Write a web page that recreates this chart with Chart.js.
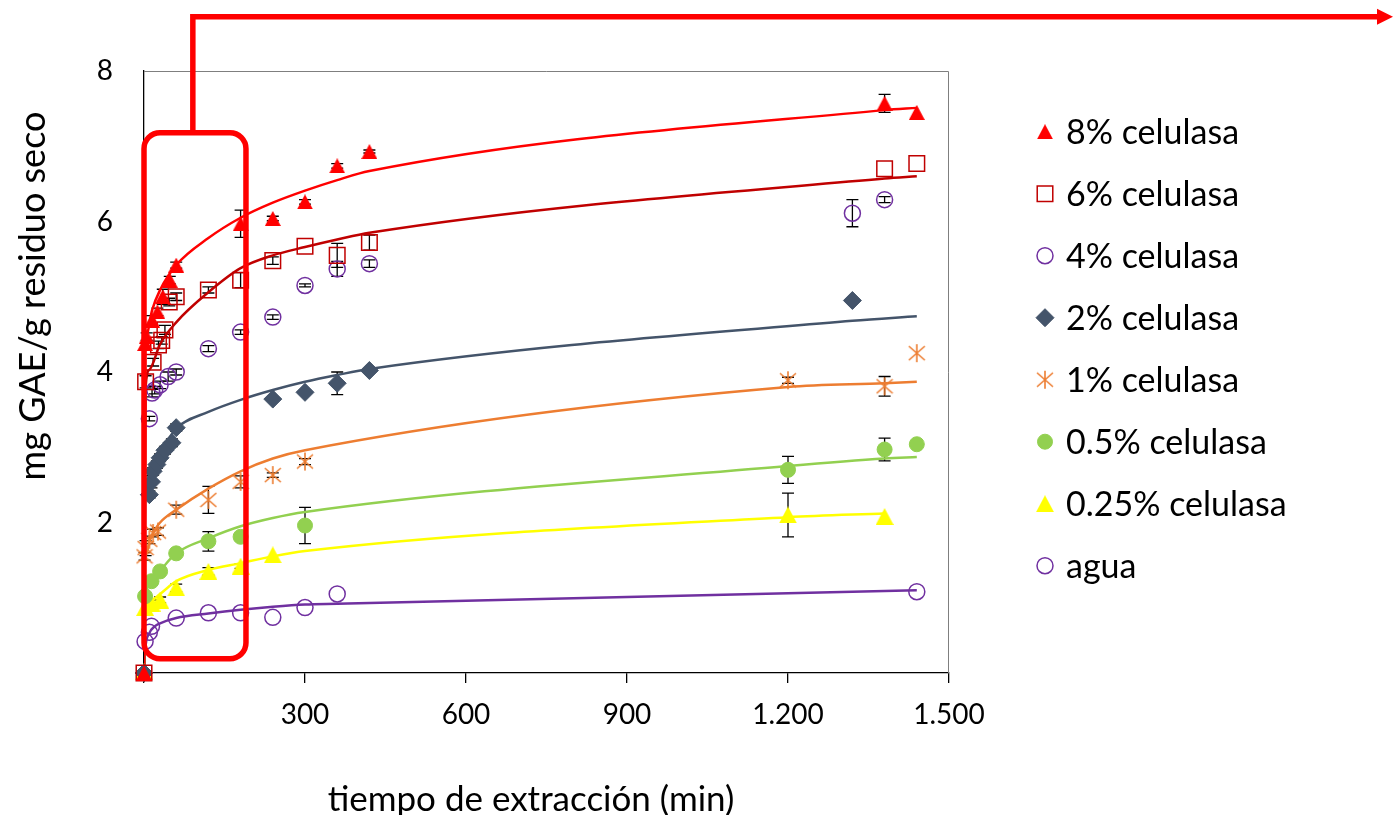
<!DOCTYPE html>
<html>
<head>
<meta charset="utf-8">
<title>Extracción con celulasa</title>
<script src="https://cdn.jsdelivr.net/npm/chart.js@4.4.1/dist/chart.umd.min.js"></script>
<style>
  html, body { margin: 0; padding: 0; background: #fff; }
  canvas { display: block; }
</style>
</head>
<body>
<canvas id="graficoCelulasa" width="1393" height="815"></canvas>
<script>
// Medidas: tiempo (min), mg GAE/g residuo seco y desviación
const tiempo8 = [0, 2, 5, 15, 25, 35, 48, 60, 180, 240, 300, 360, 420, 1380, 1440];
const gae8 = [0, 4.38, 4.47, 4.69, 4.8, 5.0, 5.22, 5.42, 5.97, 6.04, 6.26, 6.74, 6.93, 7.57, 7.45];
const de8 = [0, 0, 0.05, 0.06, 0.05, 0.1, 0.05, 0.04, 0.18, 0.03, 0.03, 0.03, 0.02, 0.12, 0];

const tiempo6 = [0, 3, 17, 27, 33, 39, 47, 60, 120, 180, 240, 300, 360, 420, 1380, 1440];
const gae6 = [0, 3.87, 4.13, 4.36, 4.42, 4.56, 4.93, 5.0, 5.09, 5.22, 5.48, 5.67, 5.55, 5.72, 6.7, 6.77];
const de6 = [0, 0.08, 0.05, 0.05, 0.05, 0.06, 0.05, 0.05, 0.04, 0.1, 0.05, 0, 0.16, 0.1, 0, 0];

const tiempo4 = [10, 15, 20, 30, 45, 60, 120, 180, 240, 300, 360, 420, 1320, 1380];
const gae4 = [3.38, 3.72, 3.76, 3.83, 3.94, 4.0, 4.31, 4.53, 4.73, 5.15, 5.37, 5.44, 6.11, 6.29];
const de4 = [0.03, 0.05, 0.05, 0.05, 0.06, 0.04, 0.04, 0.03, 0.03, 0.02, 0.1, 0.05, 0.18, 0.04];

const tiempo2 = [0, 10, 14, 17, 24, 30, 39, 52, 60, 240, 300, 360, 420, 1320];
const gae2 = [0, 2.37, 2.54, 2.68, 2.77, 2.86, 2.96, 3.06, 3.26, 3.64, 3.73, 3.85, 4.02, 4.95];
const de2 = [0, 0.05, 0.08, 0.05, 0.05, 0.05, 0.05, 0.05, 0.05, 0, 0, 0.15, 0, 0];

const tiempo1 = [1, 3, 10, 17, 26, 60, 120, 180, 240, 300, 1200, 1380, 1440];
const gae1 = [1.55, 1.66, 1.77, 1.86, 1.88, 2.17, 2.3, 2.54, 2.63, 2.81, 3.89, 3.81, 4.25];
const de1 = [0.05, 0.1, 0.05, 0.05, 0.05, 0.06, 0.18, 0.08, 0.03, 0.04, 0.04, 0.13, 0];

const tiempo05 = [2, 14, 30, 60, 120, 180, 300, 1200, 1380, 1440];
const gae05 = [1.02, 1.22, 1.35, 1.59, 1.75, 1.81, 1.96, 2.7, 2.97, 3.04];
const de05 = [0.03, 0.05, 0.04, 0.03, 0.13, 0.03, 0.24, 0.18, 0.15, 0];

const tiempo025 = [0, 2, 14, 30, 60, 120, 180, 240, 1200, 1380];
const gae025 = [0.02, 0.87, 0.93, 0.97, 1.13, 1.35, 1.42, 1.57, 2.1, 2.08];
const de025 = [0, 0, 0.04, 0.04, 0.05, 0.05, 0.03, 0, 0.29, 0];

const tiempoAgua = [2, 10, 14, 60, 120, 180, 240, 300, 360, 1440];
const gaeAgua = [0.42, 0.54, 0.62, 0.73, 0.8, 0.8, 0.74, 0.87, 1.05, 1.08];

// Curvas de ajuste del modelo
const tAjuste8 = [0, 2, 5, 15, 30, 60, 120, 180, 240, 300, 360, 420, 1380, 1440];
const ajuste8 = [0, 4.3, 4.49, 4.82, 5.09, 5.42, 5.78, 6.05, 6.25, 6.41, 6.55, 6.67, 7.48, 7.51];
const tAjuste6 = [0, 3, 10, 30, 60, 120, 180, 240, 300, 360, 420, 1380, 1440];
const ajuste6 = [0, 3.8, 4.03, 4.37, 4.66, 5.06, 5.38, 5.55, 5.66, 5.76, 5.85, 6.57, 6.6];
const tAjuste2 = [0, 2, 10, 17, 24, 30, 45, 60, 120, 180, 240, 300, 360, 420, 1320, 1440];
const ajuste2 = [0, 2.3, 2.55, 2.72, 2.85, 2.93, 3.1, 3.25, 3.47, 3.63, 3.76, 3.87, 3.96, 4.04, 4.68, 4.74];
const tAjuste1 = [0, 2, 5, 10, 20, 30, 60, 120, 180, 240, 300, 1200, 1380, 1440];
const ajuste1 = [0, 1.5, 1.6, 1.75, 1.9, 2.0, 2.17, 2.45, 2.68, 2.85, 2.96, 3.8, 3.85, 3.87];
const tAjuste05 = [0, 2, 10, 20, 30, 60, 120, 180, 240, 300, 1200, 1380, 1440];
const ajuste05 = [0, 1.0, 1.17, 1.28, 1.36, 1.59, 1.79, 1.95, 2.06, 2.14, 2.75, 2.85, 2.87];
const tAjuste025 = [0, 2, 10, 30, 60, 120, 180, 240, 300, 1200, 1380];
const ajuste025 = [0, 0.87, 0.95, 1.05, 1.22, 1.37, 1.46, 1.55, 1.62, 2.07, 2.12];
const tAjusteAgua = [0, 2, 10, 20, 30, 60, 120, 180, 240, 300, 360, 1440];
const ajusteAgua = [0, 0.3, 0.53, 0.62, 0.66, 0.73, 0.79, 0.84, 0.88, 0.91, 0.92, 1.1];

const pares = (xs, ys) => xs.map((x, i) => ({ x: x, y: ys[i] }));

// marcadores dibujados a mano: triángulo tipo Excel y asterisco
function triangulo(color, w, h) {
  const c = document.createElement('canvas');
  c.width = w; c.height = h;
  const g = c.getContext('2d');
  g.fillStyle = color;
  g.beginPath();
  g.moveTo(w / 2, 0);
  g.lineTo(w, h);
  g.lineTo(0, h);
  g.closePath();
  g.fill();
  return c;
}
function asterisco(color, w, h) {
  const c = document.createElement('canvas');
  c.width = w; c.height = h;
  const g = c.getContext('2d');
  g.strokeStyle = color;
  g.lineWidth = 1.6;
  g.beginPath();
  g.moveTo(w / 2, 1); g.lineTo(w / 2, h - 1);
  g.moveTo(1, 3); g.lineTo(w - 1, h - 3);
  g.moveTo(w - 1, 3); g.lineTo(1, h - 3);
  g.stroke();
  return c;
}
const trianguloRojo = triangulo('#FF0000', 16, 15);
const trianguloAmarillo = triangulo('#FFFF00', 18, 17);
const asteriscoNaranja = asterisco('#ED7D31', 18, 20);

function medidas(etiqueta, xs, ys, de, estilo) {
  return Object.assign({
    label: etiqueta,
    data: pares(xs, ys),
    desviacion: de,
    showLine: false,
    clip: false,
    order: 0,
    leyenda: true
  }, estilo);
}
function ajuste(xs, ys, color) {
  return {
    label: 'ajuste',
    data: pares(xs, ys),
    showLine: true,
    borderColor: color,
    borderWidth: 2.5,
    pointRadius: 0,
    cubicInterpolationMode: 'monotone',
    order: 1
  };
}

const datasets = [
  medidas('8% celulasa', tiempo8, gae8, de8, { pointStyle: trianguloRojo, pointRadius: 9, backgroundColor: '#FF0000', borderColor: '#FF0000' }),
  medidas('6% celulasa', tiempo6, gae6, de6, { pointStyle: 'rect', pointRadius: 11, backgroundColor: 'rgba(0,0,0,0)', borderColor: '#C00000', borderWidth: 1.5 }),
  medidas('4% celulasa', tiempo4, gae4, de4, { pointStyle: 'circle', pointRadius: 8, backgroundColor: 'rgba(0,0,0,0)', borderColor: '#7030A0', borderWidth: 1.5 }),
  medidas('2% celulasa', tiempo2, gae2, de2, { pointStyle: 'rectRot', pointRadius: 9, backgroundColor: '#44546A', borderColor: '#44546A', borderWidth: 1 }),
  medidas('1% celulasa', tiempo1, gae1, de1, { pointStyle: asteriscoNaranja, pointRadius: 9, backgroundColor: '#ED7D31', borderColor: '#ED7D31' }),
  medidas('0.5% celulasa', tiempo05, gae05, de05, { pointStyle: 'circle', pointRadius: 7.5, backgroundColor: '#92D050', borderColor: '#92D050', borderWidth: 1 }),
  medidas('0.25% celulasa', tiempo025, gae025, de025, { pointStyle: trianguloAmarillo, pointRadius: 9, backgroundColor: '#FFFF00', borderColor: '#FFFF00' }),
  medidas('agua', tiempoAgua, gaeAgua, null, { pointStyle: 'circle', pointRadius: 8, backgroundColor: 'rgba(0,0,0,0)', borderColor: '#7030A0', borderWidth: 1.5 }),
  ajuste(tAjuste8, ajuste8, '#FF0000'),
  ajuste(tAjuste6, ajuste6, '#C00000'),
  ajuste(tAjuste2, ajuste2, '#44546A'),
  ajuste(tAjuste1, ajuste1, '#ED7D31'),
  ajuste(tAjuste05, ajuste05, '#92D050'),
  ajuste(tAjuste025, ajuste025, '#FFFF00'),
  ajuste(tAjusteAgua, ajusteAgua, '#7030A0')
];

// marco del área de datos y barras de error
const barrasError = {
  id: 'barrasError',
  beforeDatasetsDraw(chart) {
    const { ctx, chartArea: a, scales: { x, y } } = chart;
    ctx.save();
    ctx.strokeStyle = '#7F7F7F';
    ctx.lineWidth = 1;
    ctx.beginPath();
    ctx.moveTo(a.left, a.top + 0.5);
    ctx.lineTo(a.right - 0.5, a.top + 0.5);
    ctx.lineTo(a.right - 0.5, a.bottom);
    ctx.stroke();

    ctx.strokeStyle = '#000';
    ctx.lineWidth = 1.3;
    chart.data.datasets.forEach(ds => {
      if (!ds.desviacion) return;
      ds.data.forEach((p, i) => {
        const e = ds.desviacion[i];
        if (!e) return;
        const px = x.getPixelForValue(p.x);
        const y1 = y.getPixelForValue(p.y - e);
        const y2 = y.getPixelForValue(p.y + e);
        ctx.beginPath();
        ctx.moveTo(px, y1); ctx.lineTo(px, y2);
        ctx.moveTo(px - 6, y1); ctx.lineTo(px + 6, y1);
        ctx.moveTo(px - 6, y2); ctx.lineTo(px + 6, y2);
        ctx.stroke();
      });
    });
    ctx.restore();
  }
};

// recuadro rojo sobre los primeros 190 min con su flecha
const recuadro = {
  id: 'recuadro',
  afterDatasetsDraw(chart) {
    const { ctx, scales: { x, y } } = chart;
    const x0 = x.getPixelForValue(0), x1 = x.getPixelForValue(190);
    const y0 = y.getPixelForValue(7.18), y1 = y.getPixelForValue(0.19);
    const xc = x.getPixelForValue(91), yc = y.getPixelForValue(8.72);
    const r = 16;
    ctx.save();
    ctx.strokeStyle = '#FF0000';
    ctx.fillStyle = '#FF0000';
    ctx.lineWidth = 5.5;
    ctx.beginPath();
    ctx.moveTo(x0 + r, y0);
    ctx.arcTo(x1, y0, x1, y1, r);
    ctx.arcTo(x1, y1, x0, y1, r);
    ctx.arcTo(x0, y1, x0, y0, r);
    ctx.arcTo(x0, y0, x1, y0, r);
    ctx.closePath();
    ctx.stroke();

    ctx.lineJoin = 'miter';
    ctx.beginPath();
    ctx.moveTo(xc, y0);
    ctx.lineTo(xc, yc);
    ctx.lineTo(chart.width - 12, yc);
    ctx.stroke();
    ctx.beginPath();
    ctx.moveTo(chart.width - 16, yc - 8);
    ctx.lineTo(chart.width, yc);
    ctx.lineTo(chart.width - 16, yc + 8);
    ctx.closePath();
    ctx.fill();
    ctx.restore();
  }
};

// leyenda y títulos de los ejes
const textos = {
  id: 'textos',
  afterDraw(chart) {
    const { ctx } = chart;
    ctx.save();
    ctx.fillStyle = '#000';
    ctx.font = '34px Lato';
    ctx.textBaseline = 'middle';

    let fila = 0;
    chart.data.datasets.forEach(ds => {
      if (!ds.leyenda) return;
      const yy = 131.7 + fila * 62;
      ctx.save();
      ctx.fillStyle = ds.backgroundColor;
      ctx.strokeStyle = ds.borderColor;
      ctx.lineWidth = ds.borderWidth || 1;
      Chart.helpers.drawPoint(ctx, {
        pointStyle: ds.pointStyle,
        radius: ds.pointRadius,
        rotation: 0,
        borderWidth: ds.borderWidth || 0
      }, 1045, yy);
      ctx.restore();
      ctx.textAlign = 'left';
      ctx.fillText(ds.label, 1066, yy + 1);
      fila++;
    });

    ctx.font = '35px Lato';
    ctx.textAlign = 'center';
    ctx.fillText('tiempo de extracción (min)', 531, 800);
    ctx.translate(33, 296);
    ctx.rotate(-Math.PI / 2);
    ctx.font = '36px Lato';
    ctx.fillText('mg GAE/g residuo seco', 0, 0);
    ctx.restore();
  }
};

Chart.defaults.font.family = 'Lato';
Chart.defaults.color = '#000';

new Chart(document.getElementById('graficoCelulasa'), {
  type: 'scatter',
  data: { datasets: datasets },
  options: {
    responsive: false,
    animation: false,
    layout: { padding: { top: 71, right: 444, bottom: 0, left: 0 } },
    plugins: {
      legend: { display: false },
      tooltip: { enabled: false }
    },
    scales: {
      x: {
        type: 'linear',
        min: 0,
        max: 1500,
        afterFit: (scale) => { scale.height = 142; },
        grid: { drawOnChartArea: false, drawTicks: true, tickLength: 10, color: '#000', lineWidth: 1.3 },
        border: { display: true, color: '#000', width: 1.3 },
        ticks: {
          stepSize: 300,
          padding: 15,
          font: { size: 28 },
          callback: v => v === 0 ? '' : String(v).replace(/\B(?=(\d{3})+(?!\d))/g, '.')
        }
      },
      y: {
        min: 0,
        max: 8,
        afterFit: (scale) => { scale.width = 144; },
        grid: { drawOnChartArea: false, drawTicks: false },
        border: { display: true, color: '#000', width: 1.3 },
        ticks: {
          stepSize: 2,
          padding: 31,
          font: { size: 28 },
          callback: v => v === 0 ? '' : v
        }
      }
    }
  },
  plugins: [barrasError, recuadro, textos]
});
</script>
</body>
</html>
